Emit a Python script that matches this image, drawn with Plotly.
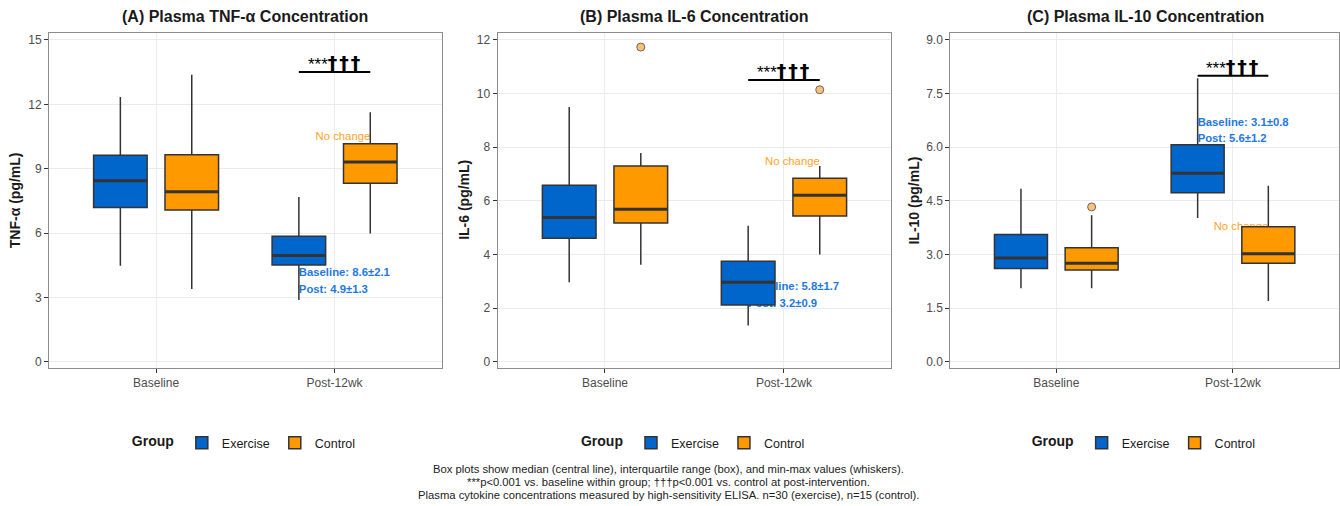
import plotly.graph_objects as go

# ---------------- data ----------------
categories = ["Baseline", "Post-12wk"]
groups = ["Exercise", "Control"]

# Panel A: TNF-alpha (pg/mL)
tnf_ex_low = [4.48, 2.89]
tnf_ex_q1 = [7.19, 4.52]
tnf_ex_med = [8.44, 4.96]
tnf_ex_q3 = [9.63, 5.86]
tnf_ex_high = [12.34, 7.69]
tnf_ct_low = [3.40, 5.98]
tnf_ct_q1 = [7.08, 8.32]
tnf_ct_med = [7.93, 9.32]
tnf_ct_q3 = [9.65, 10.17]
tnf_ct_high = [13.38, 11.63]
tnf_ct_out = [[], []]

# Panel B: IL-6 (pg/mL)
il6_ex_low = [2.97, 1.36]
il6_ex_q1 = [4.61, 2.12]
il6_ex_med = [5.38, 2.97]
il6_ex_q3 = [6.58, 3.75]
il6_ex_high = [9.50, 5.07]
il6_ct_low = [3.62, 4.00]
il6_ct_q1 = [5.18, 5.44]
il6_ct_med = [5.69, 6.21]
il6_ct_q3 = [7.30, 6.84]
il6_ct_high = [7.78, 7.30]
il6_ct_out = [[11.73], [10.14]]

# Panel C: IL-10 (pg/mL)
il10_ex_low = [2.06, 4.02]
il10_ex_q1 = [2.61, 4.73]
il10_ex_med = [2.90, 5.27]
il10_ex_q3 = [3.56, 6.07]
il10_ex_high = [4.84, 7.93]
il10_ct_low = [2.06, 1.70]
il10_ct_q1 = [2.57, 2.76]
il10_ct_med = [2.76, 3.02]
il10_ct_q3 = [3.19, 3.78]
il10_ct_high = [4.10, 4.92]
il10_ct_out = [[4.33], []]

titles = ["(A) Plasma TNF-α Concentration", "(B) Plasma IL-6 Concentration",
          "(C) Plasma IL-10 Concentration"]
y_titles = ["TNF-α (pg/mL)", "IL-6 (pg/mL)", "IL-10 (pg/mL)"]
stat_labels = [["Baseline: 8.6±2.1", "Post: 4.9±1.3"],
               ["Baseline: 5.8±1.7", "Post: 3.2±0.9"],
               ["Baseline: 3.1±0.8", "Post: 5.6±1.2"]]
stat_y = [[4.12, 3.34], [2.77, 2.15], [6.68, 6.22]]
nochange_y = [10.45, 7.46, 3.77]
sig_y = [13.51, 10.50, 8.00]
sig_stars = "***"
sig_daggers = "†††"
caption_lines = [
    "Box plots show median (central line), interquartile range (box), and min-max values (whiskers).",
    "***p<0.001 vs. baseline within group; †††p<0.001 vs. control at post-intervention.",
    "Plasma cytokine concentrations measured by high-sensitivity ELISA. n=30 (exercise), n=15 (control).",
]

# ---------------- style ----------------
FONT = "Liberation Sans, Arial, Helvetica, sans-serif"
COL = {"Exercise": "#0066CC", "Control": "#FF9900"}
STAT_COL = "#1F78E0"
NOCH_COL = "#FFA31F"
EDGE = "#333333"
GRID = "#EBEBEB"
FRAME = "#8C8C8C"
W, H = 1340, 506
DODGE = 0.2

x_px = [(49, 442), (498, 892), (951, 1341)]
y_px = (33, 369)
y_ranges = [[-0.26, 15.33], [-0.21, 12.26], [-0.158, 9.195]]
y_dticks = [3, 2, 1.5]
y_formats = ["d", "d", ".1f"]
caption_px = [471, 484, 497]

panels = [
    dict(ex=(tnf_ex_low, tnf_ex_q1, tnf_ex_med, tnf_ex_q3, tnf_ex_high, None),
         ct=(tnf_ct_low, tnf_ct_q1, tnf_ct_med, tnf_ct_q3, tnf_ct_high, tnf_ct_out)),
    dict(ex=(il6_ex_low, il6_ex_q1, il6_ex_med, il6_ex_q3, il6_ex_high, None),
         ct=(il6_ct_low, il6_ct_q1, il6_ct_med, il6_ct_q3, il6_ct_high, il6_ct_out)),
    dict(ex=(il10_ex_low, il10_ex_q1, il10_ex_med, il10_ex_q3, il10_ex_high, None),
         ct=(il10_ct_low, il10_ct_q1, il10_ct_med, il10_ct_q3, il10_ct_high, il10_ct_out)),
]

fig = go.Figure()
layout = dict()
annotations = []
shapes = []

post_pos = categories.index("Post-12wk") + 1  # numeric position on text axis

sig_text = (f"<span style='font-size:17px'>{sig_stars}</span>"
            f"<span style='font-family:DejaVu Sans;font-weight:bold;font-size:19px;"
            f"letter-spacing:2px'>{sig_daggers}</span>")

for i, p in enumerate(panels):
    tx = "x" if i == 0 else f"x{2 * i + 1}"      # text (bottom) axis
    bx = f"x{2 * i + 2}"                         # box (overlay) axis
    yy = "y" if i == 0 else f"y{i + 1}"
    legend_id = "legend" if i == 0 else f"legend{i + 1}"
    dom_x = [x_px[i][0] / W, min(x_px[i][1] / W, 1.0)]
    dom_y = [1 - y_px[1] / H, 1 - y_px[0] / H]
    cx = ((x_px[i][0] + x_px[i][1]) / 2) / W

    # text drawn beneath the boxes
    fig.add_trace(go.Scatter(
        x=[post_pos - DODGE] * 2, y=stat_y[i], mode="text",
        text=[f"<b>{t}</b>" for t in stat_labels[i]], textposition="middle right",
        textfont=dict(family=FONT, size=11.3, color=STAT_COL),
        xaxis=tx, yaxis=yy, showlegend=False, hoverinfo="skip"))
    fig.add_trace(go.Scatter(
        x=[post_pos + DODGE], y=[nochange_y[i]], mode="text",
        text=["No change"], textposition="middle left",
        textfont=dict(family=FONT, size=11.3, color=NOCH_COL),
        xaxis=tx, yaxis=yy, showlegend=False, hoverinfo="skip"))

    for g, key in zip(groups, ["ex", "ct"]):
        low, q1, med, q3, high, out = p[key]
        has_out = out is not None and any(len(o) for o in out)
        kw = dict(y=out, boxpoints="outliers") if has_out else dict(boxpoints=False)
        fig.add_trace(go.Box(
            x=categories, q1=q1, median=med, q3=q3, lowerfence=low, upperfence=high,
            orientation="v", name=g, offsetgroup=g, legend=legend_id,
            fillcolor=COL[g], line=dict(color=EDGE, width=1.5), whiskerwidth=0,
            marker=dict(color="rgba(250,160,40,0.65)", size=8,
                        line=dict(color="#666666", width=1)),
            jitter=0, pointpos=0, xaxis=bx, yaxis=yy, hoverinfo="skip", **kw))
    # thicker median lines
    for g, key in zip(groups, ["ex", "ct"]):
        low, q1, med, q3, high, out = p[key]
        fig.add_trace(go.Box(
            x=categories, q1=med, median=med, q3=med, lowerfence=med, upperfence=med,
            orientation="v", name=g, offsetgroup=g, showlegend=False,
            fillcolor="rgba(0,0,0,0)", line=dict(color=EDGE, width=3), whiskerwidth=0,
            boxpoints=False, xaxis=bx, yaxis=yy, hoverinfo="skip"))

    tx_key = "xaxis" if i == 0 else f"xaxis{2 * i + 1}"
    bx_key = f"xaxis{2 * i + 2}"
    y_key = "yaxis" if i == 0 else f"yaxis{i + 1}"
    layout[tx_key] = dict(domain=dom_x, range=[0.4, 2.6], visible=False, anchor=yy,
                          fixedrange=True)
    layout[bx_key] = dict(type="category", categoryorder="array", categoryarray=categories,
                          overlaying=tx, anchor=yy, side="bottom", range=[-0.6, 1.6],
                          showline=True, mirror=True, linecolor=FRAME, linewidth=1,
                          ticks="outside", ticklen=4, tickcolor=EDGE, tickwidth=1,
                          showgrid=True, gridcolor=GRID, gridwidth=1,
                          tickfont=dict(family=FONT, size=12, color="#4D4D4D"))
    layout[y_key] = dict(domain=dom_y, anchor=tx, range=y_ranges[i], dtick=y_dticks[i],
                         tick0=0, tickformat=y_formats[i],
                         showline=True, mirror=True, linecolor=FRAME, linewidth=1,
                         ticks="outside", ticklen=4, tickcolor=EDGE, tickwidth=1,
                         showgrid=True, gridcolor=GRID, gridwidth=1, zeroline=False,
                         tickfont=dict(family=FONT, size=12, color="#4D4D4D"))
    layout[legend_id] = dict(
        x=cx, y=1 - 445 / H, xanchor="center", yanchor="middle", orientation="h",
        title=dict(text="<b>Group</b>", side="left", font=dict(family=FONT, size=14, color="#1A1A1A")),
        font=dict(family=FONT, size=12.5, color="#1A1A1A"), bgcolor="rgba(0,0,0,0)",
        itemclick=False, itemdoubleclick=False)

    # significance bar
    shapes.append(dict(type="line", xref=tx, yref=yy, x0=post_pos - DODGE, x1=post_pos + DODGE,
                       y0=sig_y[i], y1=sig_y[i], line=dict(color="black", width=2)))
    annotations.append(dict(xref=tx, yref=yy, x=post_pos, y=sig_y[i], text=sig_text,
                            showarrow=False, yanchor="bottom", yshift=-4,
                            font=dict(family=FONT, size=17, color="black")))
    # panel title
    annotations.append(dict(xref="paper", yref="paper", x=cx, y=1 - 17 / H, text=f"<b>{titles[i]}</b>",
                            showarrow=False, xanchor="center", yanchor="middle",
                            font=dict(family=FONT, size=16, color="#1A1A1A")))
    # y-axis title
    ytx = [15, 465, 915][i]
    annotations.append(dict(xref="paper", yref="paper", x=ytx / W, y=1 - 201 / H,
                            text=f"<b>{y_titles[i]}</b>", textangle=-90, showarrow=False,
                            xanchor="center", yanchor="middle",
                            font=dict(family=FONT, size=14, color="#1A1A1A")))

for line, ypx in zip(caption_lines, caption_px):
    annotations.append(dict(xref="paper", yref="paper", x=669 / W, y=1 - ypx / H,
                            text=line, showarrow=False,
                            xanchor="center", yanchor="middle", align="center",
                            font=dict(family=FONT, size=11.25, color="#222222")))

fig.update_layout(
    width=W, height=H, margin=dict(l=0, r=0, t=0, b=0),
    paper_bgcolor="white", plot_bgcolor="white",
    boxmode="group", boxgap=0.2, boxgroupgap=0.25,
    font=dict(family=FONT),
    annotations=annotations, shapes=shapes, hovermode=False,
    **layout)

fig.write_html("out.html", config={"displayModeBar": False},
               post_script="document.body.style.margin='0';")
